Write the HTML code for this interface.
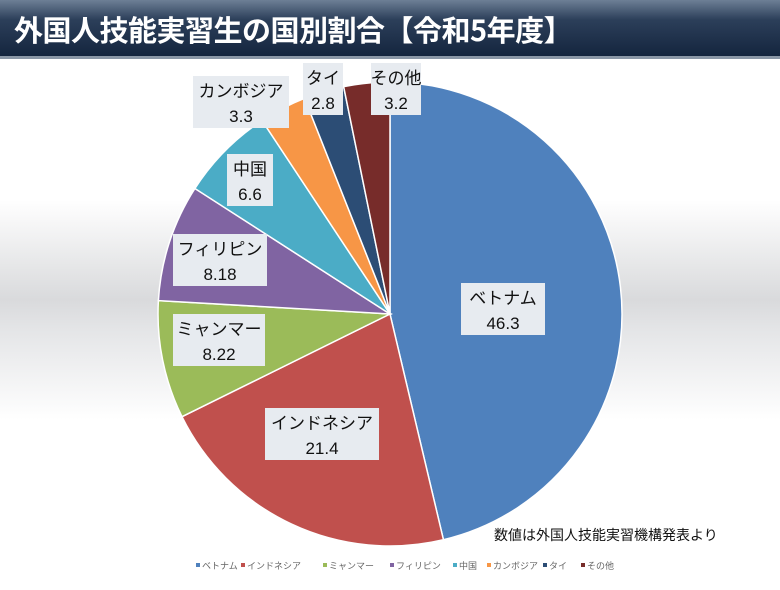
<!DOCTYPE html>
<html><head><meta charset="utf-8">
<style>
body{margin:0;width:780px;height:590px;overflow:hidden;font-family:"Liberation Sans","Noto Sans CJK JP",sans-serif;}
#root{position:relative;width:780px;height:590px;background:linear-gradient(#fff 0px,#fff 200px,#d9dadc 300px,#e4e5e7 330px,#fff 420px,#fff 590px);}
#title{position:absolute;left:0;top:0;width:780px;height:56px;background:linear-gradient(180deg,#6d7f95 0%,#2c3f5a 35%,#14253e 100%);border-bottom:3px solid #8a97a6;}
#title span{position:absolute;left:14px;top:8px;color:#fff;font-size:29px;font-weight:bold;font-family:"Noto Sans CJK JP",sans-serif;letter-spacing:-0.5px}
svg{position:absolute;left:0;top:0}
.lb{fill:#e7ebf0}
</style></head><body>
<div id="root">
<div id="title"><span>外国人技能実習生の国別割合【令和5年度】</span></div>
<svg id="chart" width="780" height="590"></svg>
</div>
<script>
const categories=["ベトナム","インドネシア","ミャンマー","フィリピン","中国","カンボジア","タイ","その他"];
const values=[46.3,21.4,8.22,8.18,6.6,3.3,2.8,3.2];
const valueLabels=["46.3","21.4","8.22","8.18","6.6","3.3","2.8","3.2"];
const colors=["#4f81bd","#c0504d","#9bbb59","#8064a2","#4bacc6","#f79646","#2c4d75","#772c2a"];
const labelPos=[[503,310],[322,435],[219,341],[220,261],[250,181],[241,103],[323,90],[396,90]];
const labelW=[84,114,92,94,46,96,40,50];
const NS="http://www.w3.org/2000/svg";
const svg=document.getElementById('chart');
const cx=390,cy=314,r=232;
const total=values.reduce((a,b)=>a+b,0);
function pt(a){return [cx+r*Math.sin(a),cy-r*Math.cos(a)];}
let ang=0;
values.forEach((v,i)=>{
  const a2=ang+v/total*2*Math.PI;
  const p1=pt(ang),p2=pt(a2);
  const large=(a2-ang)>Math.PI?1:0;
  const p=document.createElementNS(NS,'path');
  p.setAttribute('d',`M${cx},${cy}L${p1[0]},${p1[1]}A${r},${r} 0 ${large} 1 ${p2[0]},${p2[1]}Z`);
  p.setAttribute('fill',colors[i]);p.setAttribute('stroke','#fff');p.setAttribute('stroke-width','1.5');
  
  
  svg.appendChild(p);
  ang=a2;
});
categories.forEach((c,i)=>{
  const [x,y]=labelPos[i],w=labelW[i];
  const g=document.createElementNS(NS,'g');
  
  
  const rc=document.createElementNS(NS,'rect');
  rc.setAttribute('x',x-w/2);rc.setAttribute('y',y-27);rc.setAttribute('width',w);rc.setAttribute('height',52);rc.setAttribute('class','lb');
  g.appendChild(rc);
  [[c,y-6],[valueLabels[i],y+19]].forEach(([t,yy])=>{
    const tx=document.createElementNS(NS,'text');
    tx.setAttribute('x',x);tx.setAttribute('y',yy);tx.setAttribute('text-anchor','middle');tx.setAttribute('font-size','17');tx.setAttribute('fill','#111');
    tx.textContent=t;g.appendChild(tx);
  });
  svg.appendChild(g);
});
const note=document.createElementNS(NS,'text');
note.setAttribute('x',494);note.setAttribute('y',540);note.setAttribute('font-size','14');note.setAttribute('fill','#111');


note.textContent='数値は外国人技能実習機構発表より';svg.appendChild(note);
const legX=[196,241,323,390,453,487,543,581];
categories.forEach((c,i)=>{
  const g=document.createElementNS(NS,'g');
  
  
  const s=document.createElementNS(NS,'rect');
  s.setAttribute('x',legX[i]);s.setAttribute('y',563);s.setAttribute('width',4);s.setAttribute('height',4);s.setAttribute('fill',colors[i]);
  g.appendChild(s);
  const t=document.createElementNS(NS,'text');
  t.setAttribute('x',legX[i]+6);t.setAttribute('y',569);t.setAttribute('font-size','9');t.setAttribute('fill','#666');
  t.textContent=c;g.appendChild(t);
  svg.appendChild(g);
});
</script>
</body></html>
